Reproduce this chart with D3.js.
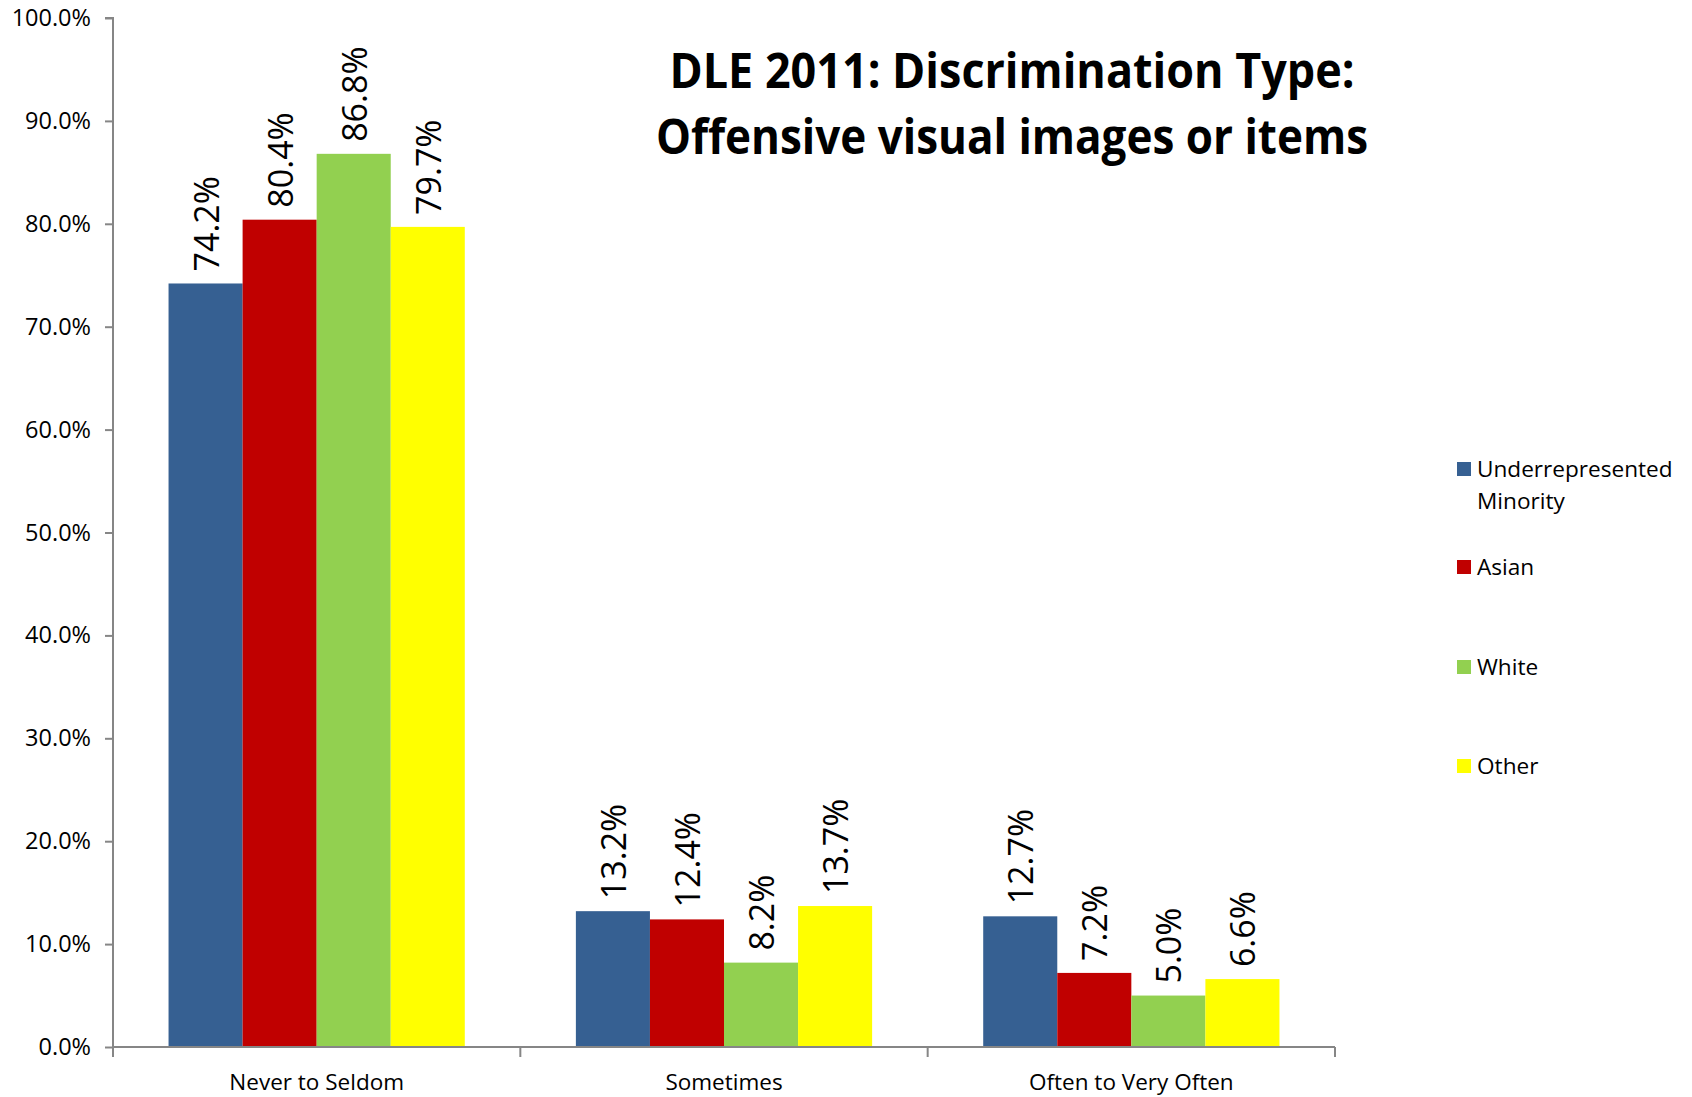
<!DOCTYPE html>
<html><head><meta charset="utf-8">
<script src="https://cdn.jsdelivr.net/npm/d3@7"></script>
<style>body{margin:0;background:#fff}svg{display:block}</style>
</head><body>
<script>
const categories = ["Never to Seldom", "Sometimes", "Often to Very Often"];
const seriesNames = ["Underrepresented Minority", "Asian", "White", "Other"];
const seriesColors = ["#366092", "#C00000", "#92D050", "#FFFF00"];
const urm   = [74.2, 13.2, 12.7];
const asian = [80.4, 12.4, 7.2];
const white = [86.8, 8.2, 5.0];
const other = [79.7, 13.7, 6.6];
const yTicks = [0, 10, 20, 30, 40, 50, 60, 70, 80, 90, 100];
const titleLines = ["DLE 2011: Discrimination Type:", "Offensive visual images or items"];

const series = [urm, asian, white, other];
const W = 1692, H = 1097;
const m = {left: 113, right: 1335, top: 18, bottom: 1047};
const font = "'Open Sans', sans-serif";

const svg = d3.select("body").append("svg").attr("width", W).attr("height", H);

const x0 = d3.scaleBand().domain(categories).range([m.left, m.right]).paddingInner(0).paddingOuter(0);
const inner = 1.5 / 5.5; // Excel gap width 150%
const x1 = d3.scaleBand().domain(d3.range(4))
  .range([x0.bandwidth() * inner / 2, x0.bandwidth() * (1 - inner / 2)]).padding(0);
const y = d3.scaleLinear().domain([0, 100]).range([m.bottom, m.top]);

// y axis
const yAxis = d3.axisLeft(y).tickValues(yTicks).tickSize(8).tickPadding(14)
  .tickFormat(d => d.toFixed(1) + "%");
const gy = svg.append("g").attr("transform", `translate(${m.left},0)`).call(yAxis);
gy.select(".domain").attr("stroke", "#868686").attr("stroke-width", 2).attr("d", `M-8,${m.top}H0V${m.bottom}`);
gy.selectAll(".tick line").attr("stroke", "#868686").attr("stroke-width", 2);
gy.selectAll(".tick text").attr("font-family", font).attr("font-size", 23.5).attr("fill", "#000");

// bars
const groups = svg.append("g").selectAll("g").data(categories).join("g")
  .attr("transform", d => `translate(${x0(d)},0)`);
groups.selectAll("rect").data((c, ci) => series.map((s, si) => ({si, v: s[ci]}))).join("rect")
  .attr("x", d => x1(d.si)).attr("width", x1.bandwidth())
  .attr("y", d => y(d.v)).attr("height", d => y(0) - y(d.v))
  .attr("fill", d => seriesColors[d.si]);
groups.selectAll("text").data((c, ci) => series.map((s, si) => ({si, v: s[ci]}))).join("text")
  .attr("transform", d => `translate(${x1(d.si) + x1.bandwidth() / 2},${y(d.v) - 12}) rotate(-90)`)
  .attr("dominant-baseline", "central").attr("text-anchor", "start")
  .attr("font-family", font).attr("font-size", 34).attr("fill", "#000")
  .text(d => d.v.toFixed(1) + "%");

// x axis
const xAxis = d3.axisBottom(x0).tickSize(0).tickPadding(0);
const gx = svg.append("g").attr("transform", `translate(0,${m.bottom})`).call(xAxis);
gx.select(".domain").remove();
gx.append("line").attr("x1", m.left).attr("x2", m.right).attr("stroke", "#868686").attr("stroke-width", 2);
gx.selectAll(".sep").data(d3.range(4)).join("line")
  .attr("x1", i => m.left + i * x0.step()).attr("x2", i => m.left + i * x0.step())
  .attr("y1", 0).attr("y2", 10).attr("stroke", "#868686").attr("stroke-width", 2);
gx.selectAll(".tick text").attr("font-family", font).attr("font-size", 22.5).attr("fill", "#000")
  .attr("y", 43).attr("dy", 0);

// title
svg.append("g").selectAll("text").data(titleLines).join("text")
  .attr("x", 1012).attr("y", (d, i) => 88 + i * 66)
  .attr("text-anchor", "middle").attr("font-family", font).attr("font-weight", "bold")
  .attr("font-size", 48).attr("fill", "#000")
  .attr("textLength", (d, i) => i === 0 ? 685 : 712).attr("lengthAdjust", "spacingAndGlyphs")
  .text(d => d);

// legend
const legY = [469, 567, 667, 766];
const leg = svg.append("g").selectAll("g").data(seriesNames).join("g")
  .attr("transform", (d, i) => `translate(1457,${legY[i]})`);
leg.append("rect").attr("x", 0).attr("y", -7).attr("width", 14).attr("height", 14)
  .attr("fill", (d, i) => seriesColors[i]);
leg.append("text").attr("x", 20).attr("y", 8).attr("font-family", font).attr("font-size", 22.6).attr("fill", "#000")
  .each(function(d) {
    const parts = d === "Underrepresented Minority" ? ["Underrepresented", "Minority"] : [d];
    d3.select(this).selectAll("tspan").data(parts).join("tspan")
      .attr("x", 20).attr("dy", (p, i) => i === 0 ? 0 : 32).text(p => p);
  });
</script>
</body></html>
